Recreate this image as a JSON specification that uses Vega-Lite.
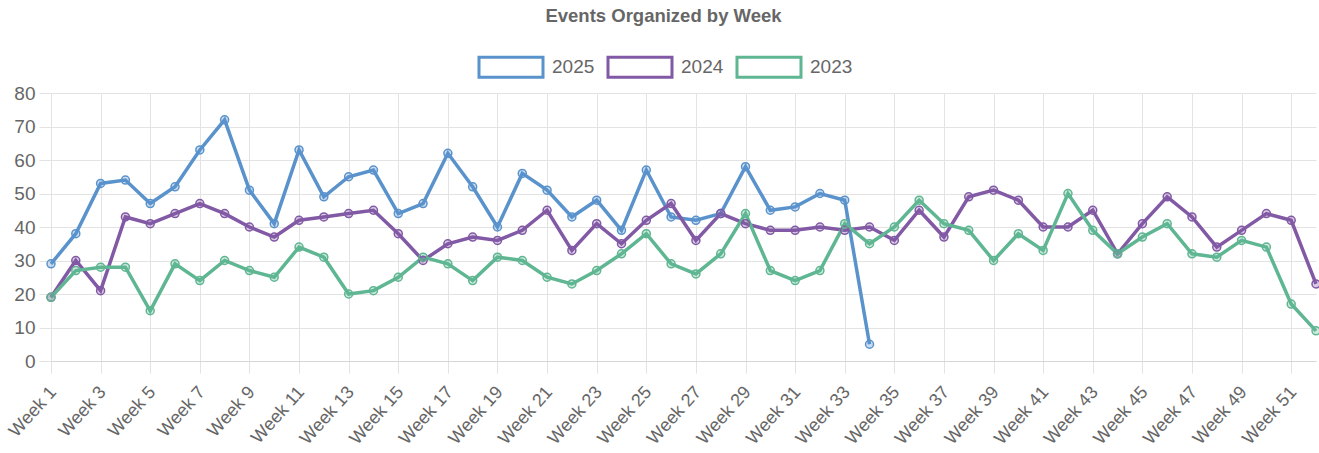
{
  "$schema": "https://vega.github.io/schema/vega-lite/v6.json",
  "autosize": {"type": "none"},
  "width": 1265,
  "height": 268,
  "padding": {"left": 51, "top": 93, "right": 3, "bottom": 92},
  "background": "white",
  "title": {
    "text": "Events Organized by Week",
    "fontSize": 18.5,
    "fontWeight": "bold",
    "color": "#666666",
    "font": "Liberation Sans",
    "anchor": "middle",
    "offset": 10,
    "dx": -20
  },
  "config": {
    "view": {"stroke": null},
    "font": "Liberation Sans"
  },
  "data": {
    "values": [
      {"week":1,"year":"2025","value":29},{"week":2,"year":"2025","value":38},{"week":3,"year":"2025","value":53},{"week":4,"year":"2025","value":54},{"week":5,"year":"2025","value":47},{"week":6,"year":"2025","value":52},{"week":7,"year":"2025","value":63},{"week":8,"year":"2025","value":72},{"week":9,"year":"2025","value":51},{"week":10,"year":"2025","value":41},{"week":11,"year":"2025","value":63},{"week":12,"year":"2025","value":49},{"week":13,"year":"2025","value":55},{"week":14,"year":"2025","value":57},{"week":15,"year":"2025","value":44},{"week":16,"year":"2025","value":47},{"week":17,"year":"2025","value":62},{"week":18,"year":"2025","value":52},{"week":19,"year":"2025","value":40},{"week":20,"year":"2025","value":56},{"week":21,"year":"2025","value":51},{"week":22,"year":"2025","value":43},{"week":23,"year":"2025","value":48},{"week":24,"year":"2025","value":39},{"week":25,"year":"2025","value":57},{"week":26,"year":"2025","value":43},{"week":27,"year":"2025","value":42},{"week":28,"year":"2025","value":44},{"week":29,"year":"2025","value":58},{"week":30,"year":"2025","value":45},{"week":31,"year":"2025","value":46},{"week":32,"year":"2025","value":50},{"week":33,"year":"2025","value":48},{"week":34,"year":"2025","value":5},
      {"week":1,"year":"2024","value":19},{"week":2,"year":"2024","value":30},{"week":3,"year":"2024","value":21},{"week":4,"year":"2024","value":43},{"week":5,"year":"2024","value":41},{"week":6,"year":"2024","value":44},{"week":7,"year":"2024","value":47},{"week":8,"year":"2024","value":44},{"week":9,"year":"2024","value":40},{"week":10,"year":"2024","value":37},{"week":11,"year":"2024","value":42},{"week":12,"year":"2024","value":43},{"week":13,"year":"2024","value":44},{"week":14,"year":"2024","value":45},{"week":15,"year":"2024","value":38},{"week":16,"year":"2024","value":30},{"week":17,"year":"2024","value":35},{"week":18,"year":"2024","value":37},{"week":19,"year":"2024","value":36},{"week":20,"year":"2024","value":39},{"week":21,"year":"2024","value":45},{"week":22,"year":"2024","value":33},{"week":23,"year":"2024","value":41},{"week":24,"year":"2024","value":35},{"week":25,"year":"2024","value":42},{"week":26,"year":"2024","value":47},{"week":27,"year":"2024","value":36},{"week":28,"year":"2024","value":44},{"week":29,"year":"2024","value":41},{"week":30,"year":"2024","value":39},{"week":31,"year":"2024","value":39},{"week":32,"year":"2024","value":40},{"week":33,"year":"2024","value":39},{"week":34,"year":"2024","value":40},{"week":35,"year":"2024","value":36},{"week":36,"year":"2024","value":45},{"week":37,"year":"2024","value":37},{"week":38,"year":"2024","value":49},{"week":39,"year":"2024","value":51},{"week":40,"year":"2024","value":48},{"week":41,"year":"2024","value":40},{"week":42,"year":"2024","value":40},{"week":43,"year":"2024","value":45},{"week":44,"year":"2024","value":32},{"week":45,"year":"2024","value":41},{"week":46,"year":"2024","value":49},{"week":47,"year":"2024","value":43},{"week":48,"year":"2024","value":34},{"week":49,"year":"2024","value":39},{"week":50,"year":"2024","value":44},{"week":51,"year":"2024","value":42},{"week":52,"year":"2024","value":23},
      {"week":1,"year":"2023","value":19},{"week":2,"year":"2023","value":27},{"week":3,"year":"2023","value":28},{"week":4,"year":"2023","value":28},{"week":5,"year":"2023","value":15},{"week":6,"year":"2023","value":29},{"week":7,"year":"2023","value":24},{"week":8,"year":"2023","value":30},{"week":9,"year":"2023","value":27},{"week":10,"year":"2023","value":25},{"week":11,"year":"2023","value":34},{"week":12,"year":"2023","value":31},{"week":13,"year":"2023","value":20},{"week":14,"year":"2023","value":21},{"week":15,"year":"2023","value":25},{"week":16,"year":"2023","value":31},{"week":17,"year":"2023","value":29},{"week":18,"year":"2023","value":24},{"week":19,"year":"2023","value":31},{"week":20,"year":"2023","value":30},{"week":21,"year":"2023","value":25},{"week":22,"year":"2023","value":23},{"week":23,"year":"2023","value":27},{"week":24,"year":"2023","value":32},{"week":25,"year":"2023","value":38},{"week":26,"year":"2023","value":29},{"week":27,"year":"2023","value":26},{"week":28,"year":"2023","value":32},{"week":29,"year":"2023","value":44},{"week":30,"year":"2023","value":27},{"week":31,"year":"2023","value":24},{"week":32,"year":"2023","value":27},{"week":33,"year":"2023","value":41},{"week":34,"year":"2023","value":35},{"week":35,"year":"2023","value":40},{"week":36,"year":"2023","value":48},{"week":37,"year":"2023","value":41},{"week":38,"year":"2023","value":39},{"week":39,"year":"2023","value":30},{"week":40,"year":"2023","value":38},{"week":41,"year":"2023","value":33},{"week":42,"year":"2023","value":50},{"week":43,"year":"2023","value":39},{"week":44,"year":"2023","value":32},{"week":45,"year":"2023","value":37},{"week":46,"year":"2023","value":41},{"week":47,"year":"2023","value":32},{"week":48,"year":"2023","value":31},{"week":49,"year":"2023","value":36},{"week":50,"year":"2023","value":34},{"week":51,"year":"2023","value":17},{"week":52,"year":"2023","value":9}
    ]
  },
  "encoding": {
    "x": {
      "field": "week",
      "type": "quantitative",
      "scale": {"domain": [1, 52], "nice": false, "zero": false},
      "axis": {
        "title": null,
        "values": [1,3,5,7,9,11,13,15,17,19,21,23,25,27,29,31,33,35,37,39,41,43,45,47,49,51],
        "labelExpr": "'Week ' + datum.value",
        "grid": true,
        "gridColor": "#e3e3e3",
        "tickSize": 12,
        "tickColor": "#e3e3e3",
        "domainColor": "#d6d6d6",
        "labelAngle": -48,
        "labelAlign": "right",
        "labelBaseline": "middle",
        "labelFontSize": 18,
        "labelColor": "#666666",
        "labelPadding": 16,
        "labelOffset": 2,
        "labelFlush": false,
        "labelOverlap": false
      }
    },
    "y": {
      "field": "value",
      "type": "quantitative",
      "scale": {"domain": [0, 80], "nice": false},
      "axis": {
        "title": null,
        "values": [0,10,20,30,40,50,60,70,80],
        "grid": true,
        "gridColor": "#e3e3e3",
        "tickSize": 12,
        "tickColor": "#e3e3e3",
        "domain": false,
        "labelFontSize": 19,
        "labelColor": "#666666",
        "labelPadding": 4
      }
    }
  },
  "layer": [
    {
      "mark": {"type": "line", "strokeWidth": 3.5},
      "encoding": {
        "color": {
          "field": "year",
          "type": "nominal",
          "scale": {"domain": ["2025", "2024", "2023"], "range": ["#5a93cc", "#8259a5", "#5fb692"]},
          "legend": {
            "title": null,
            "orient": "none",
            "direction": "horizontal",
            "legendX": 428,
            "legendY": -58,
            "padding": 0,
            "symbolType": "M-1.047,-0.359H1.047V0.359H-1.047ZM-0.953,-0.266V0.266H0.953V-0.266Z",
            "symbolSize": 4096,
            "symbolStrokeWidth": 0,
            "symbolOpacity": 1,
            "labelFontSize": 19,
            "labelColor": "#666666",
            "labelOffset": 9,
            "columnPadding": 11
          }
        }
      }
    },
    {
      "mark": {"type": "point", "shape": "circle", "size": 64, "filled": true, "opacity": 0.3},
      "encoding": {
        "color": {
          "field": "year",
          "type": "nominal",
          "scale": {"domain": ["2025", "2024", "2023"], "range": ["#5a93cc", "#8259a5", "#5fb692"]},
          "legend": null
        }
      }
    },
    {
      "mark": {"type": "point", "shape": "circle", "size": 64, "strokeWidth": 1.5, "filled": false, "opacity": 1},
      "encoding": {
        "color": {
          "field": "year",
          "type": "nominal",
          "scale": {"domain": ["2025", "2024", "2023"], "range": ["#5a93cc", "#8259a5", "#5fb692"]},
          "legend": null
        }
      }
    }
  ]
}
